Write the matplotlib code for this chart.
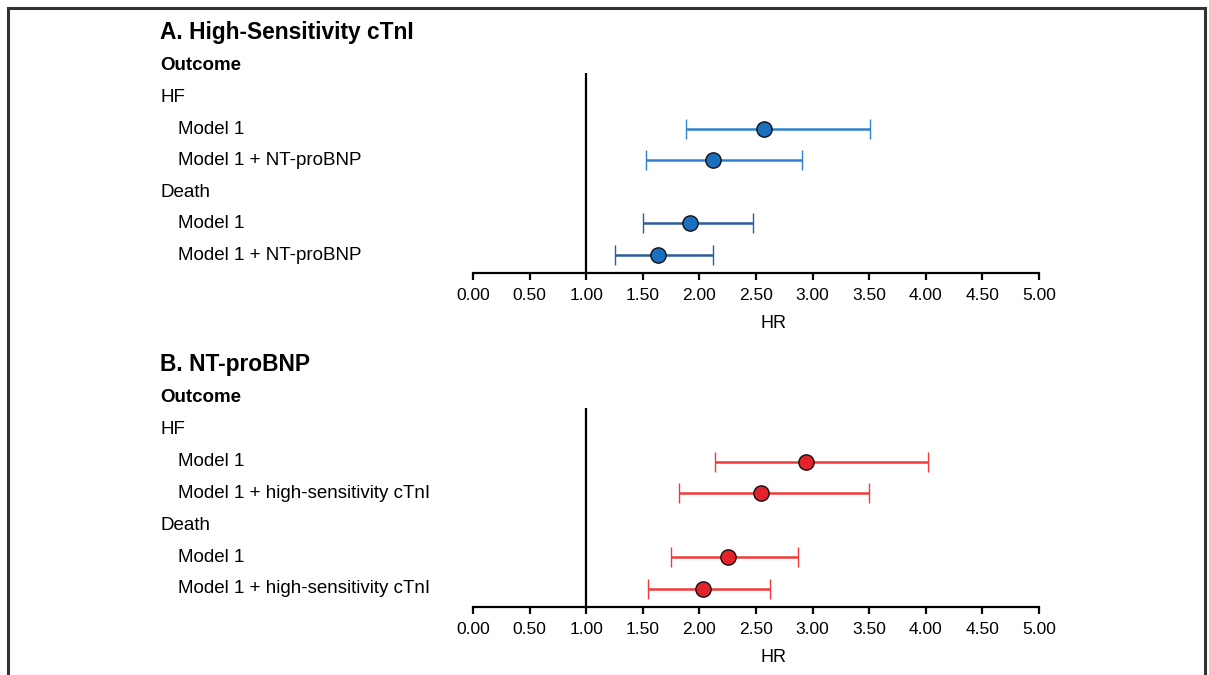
import matplotlib
matplotlib.use("Agg")
import matplotlib.pyplot as plt
from matplotlib.lines import Line2D

plt.rcParams['font.family'] = ['Liberation Sans', 'DejaVu Sans']

# ---- data ----
titles = ["A. High-Sensitivity cTnI", "B. NT-proBNP"]
row_labels_a = ["HF", "Model 1", "Model 1 + NT-proBNP", "Death", "Model 1", "Model 1 + NT-proBNP"]
row_labels_b = ["HF", "Model 1", "Model 1 + high-sensitivity cTnI", "Death", "Model 1",
                "Model 1 + high-sensitivity cTnI"]
indent = [False, True, True, False, True, True]

# estimates for rows 1,2 (HF) and 4,5 (Death)
hr_a = [2.57, 2.12, 1.92, 1.63]
lo_a = [1.88, 1.53, 1.50, 1.25]
hi_a = [3.51, 2.91, 2.47, 2.12]

hr_b = [2.94, 2.54, 2.25, 2.03]
lo_b = [2.14, 1.82, 1.75, 1.55]
hi_b = [4.02, 3.50, 2.87, 2.62]

data_rows = [2, 3, 5, 6]  # row index (Outcome = 0)
ticks = [0.0, 0.5, 1.0, 1.5, 2.0, 2.5, 3.0, 3.5, 4.0, 4.5, 5.0]

W, H = 1209, 675
fig = plt.figure(figsize=(W / 100, H / 100), dpi=100)

def fx(px):
    return px / W

def fy(py):
    return 1 - py / H

panels = [
    dict(title=titles[0], labels=row_labels_a, hr=hr_a, lo=lo_a, hi=hi_a,
         bar_colors=["#2f80d0", "#2f80d0", "#2a5b9f", "#2a5b9f"], face="#1b6fbf",
         y_outcome=66, step=31.5, axis_y=273, vtop=73, title_y=32, hr_y=324),
    dict(title=titles[1], labels=row_labels_b, hr=hr_b, lo=lo_b, hi=hi_b,
         bar_colors=["#f03a3a"] * 4, face="#e3222b",
         y_outcome=398, step=31.8, axis_y=607, vtop=408, title_y=365, hr_y=658),
]

x0_px, x5_px = 473, 1039

for p in panels:
    top_i = (p["vtop"] - p["y_outcome"]) / p["step"]
    bot_i = (p["axis_y"] - p["y_outcome"]) / p["step"]
    ax = fig.add_axes([fx(x0_px), fy(p["axis_y"]), fx(x5_px - x0_px),
                       (p["axis_y"] - p["vtop"]) / H])
    ax.set_xlim(0, 5)
    ax.set_ylim(bot_i, top_i)
    for s in ["top", "right", "left"]:
        ax.spines[s].set_visible(False)
    ax.spines["bottom"].set_linewidth(1.6)
    ax.set_yticks([])
    ax.set_xticks(ticks)
    ax.set_xticklabels([f"{t:.2f}" for t in ticks], fontsize=12.5)
    ax.tick_params(axis="x", length=5, width=1.6, pad=5.5)
    ax.patch.set_alpha(0)
    ax.axvline(1.0, color="black", lw=1.6, zorder=1)

    for k, r in enumerate(data_rows):
        c = p["bar_colors"][k]
        ax.errorbar(p["hr"][k], r,
                    xerr=[[p["hr"][k] - p["lo"][k]], [p["hi"][k] - p["hr"][k]]],
                    fmt="o", color=c, ecolor=c, elinewidth=1.8, capsize=7.5, capthick=1.8,
                    markersize=11, markerfacecolor=p["face"], markeredgecolor="#111111",
                    markeredgewidth=1.0, zorder=3)

    fig.text(fx(773), fy(p["hr_y"]), "HR", ha="center", va="center", fontsize=13)

    # labels
    fig.text(fx(160), fy(p["title_y"]), p["title"], ha="left", va="center",
             fontsize=16.4, fontweight="bold")
    fig.text(fx(160), fy(p["y_outcome"]), "Outcome", ha="left", va="center",
             fontsize=13.5, fontweight="bold")
    for i, lab in enumerate(p["labels"]):
        xp = 178 if indent[i] else 160
        fig.text(fx(xp), fy(p["y_outcome"] + p["step"] * (i + 1)), lab,
                 ha="left", va="center", fontsize=13.5)

# frame
fc = "#333333"
fig.add_artist(Line2D([fx(8), fx(8)], [0, fy(7.5)], color=fc, lw=2.2, transform=fig.transFigure))
fig.add_artist(Line2D([fx(8), fx(1205)], [fy(7.5), fy(7.5)], color=fc, lw=2.2, transform=fig.transFigure))
fig.add_artist(Line2D([fx(1205), fx(1205)], [fy(7.5), 0], color=fc, lw=2.2, transform=fig.transFigure))

fig.savefig("out.png", dpi=100, facecolor="white")
